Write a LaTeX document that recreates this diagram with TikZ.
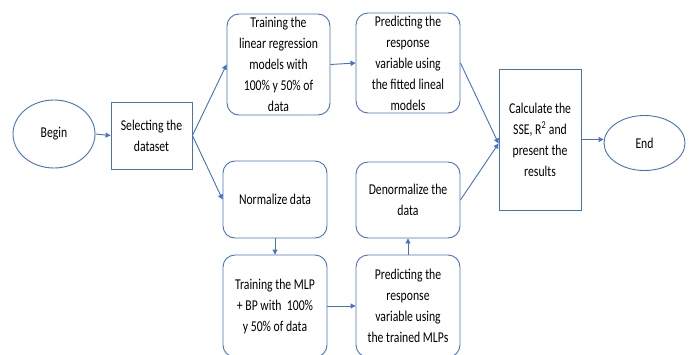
\documentclass[tikz,border=0pt]{standalone}
\usepackage{fontspec}
\setmainfont[FakeStretch=0.78]{Carlito}
\usetikzlibrary{shapes.geometric,arrows.meta,calc}
\definecolor{obl}{HTML}{4472C4}
\begin{document}
\begin{tikzpicture}[x=1pt,y=-1pt,
  base/.style={draw=obl,line width=0.9pt,align=center,inner sep=0pt,
    font=\fontsize{15}{21}\selectfont,text=black},
  oval/.style={base,ellipse},
  sqbox/.style={base,rectangle},
  rbox/.style={base,rectangle,rounded corners=12pt},
  arr/.style={draw=obl,line width=0.9pt,-{Triangle[length=5pt,width=5pt]}}]
\clip (0,0) rectangle (692,354);
\fill[white] (0,0) rectangle (692,354);
\node[oval,minimum width=82pt,minimum height=68pt] (begin) at (54,134) {Begin};
\node[sqbox,minimum width=81pt,minimum height=67pt] (select) at (151.5,135.5) {Selecting the\\dataset};
\node[rbox,minimum width=103pt,minimum height=101pt] (trainlr) at (278.5,64.5) {Training the\\linear regression\\models with\\100\% y 50\% of\\data};
\node[rbox,minimum width=104pt,minimum height=100pt] (predlr) at (408,63) {Predicting the\\response\\variable using\\the fitted lineal\\models};
\node[rbox,minimum width=104pt,minimum height=77pt] (norm) at (275,199.5) {Normalize data};
\node[rbox,minimum width=104pt,minimum height=102pt] (trainmlp) at (275,306) {Training the MLP\\+ BP with~ 100\%\\y 50\% of data};
\node[rbox,minimum width=104pt,minimum height=102pt] (predmlp) at (408,306) {Predicting the\\response\\variable using\\the trained MLPs};
\node[rbox,minimum width=104pt,minimum height=76pt] (denorm) at (408,200) {Denormalize the\\data};
\node[sqbox,minimum width=82pt,minimum height=141pt] (calc) at (540,139.5) {Calculate the\\SSE, R\textsuperscript{2} and\\present the\\results};
\node[oval,minimum width=81pt,minimum height=55pt] (end) at (644.5,143) {End};
\coordinate (cin) at ([yshift=-4pt]calc.west);
\draw[arr] (begin.east) -- (select.west);
\draw[arr] (select.east) -- (trainlr.west);
\draw[arr] (select.east) -- (norm.west);
\draw[arr] (trainlr.east) -- (predlr.west);
\draw[arr] (norm.south) -- (trainmlp.north);
\draw[arr] (trainmlp.east) -- (predmlp.west);
\draw[arr] (predmlp.north) -- (denorm.south);
\draw[arr] (predlr.east) -- (cin);
\draw[arr] (denorm.east) -- (cin);
\draw[arr] (calc.east) -- (calc.east -| end.west);
\end{tikzpicture}
\end{document}
